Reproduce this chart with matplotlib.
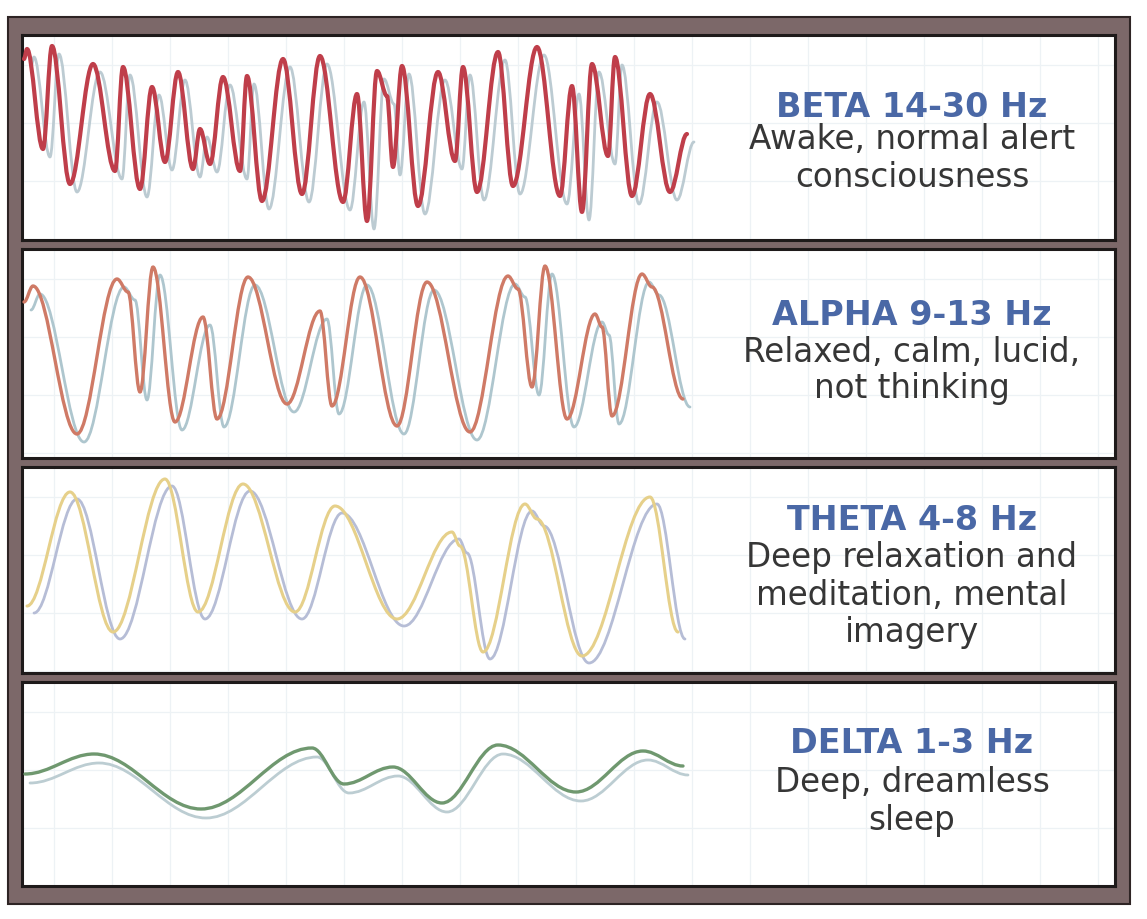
"""
脑电波四种频段示意图 (Beta / Alpha / Theta / Delta)
"""

import matplotlib
matplotlib.use("Agg")
import matplotlib.pyplot as plt
from matplotlib.path import Path
from matplotlib.patches import PathPatch, Rectangle
from matplotlib.transforms import offset_copy

# 波形极值点 (读自原图，像素坐标)
beta_x = [24, 27, 43, 52, 70, 93, 115, 123, 140, 152, 165, 178, 193, 200, 210, 223, 240, 247,
          262, 283, 302, 320, 343, 357, 367, 377, 387, 393, 402, 418, 438, 455, 463, 477, 498,
          513, 537, 560, 572, 582, 592, 608, 615, 632, 650, 670, 687]
beta_y = [60, 50, 150, 47, 185, 65, 172, 68, 190, 88, 163, 73, 170, 130, 165, 78, 172, 77,
          202, 60, 195, 57, 203, 95, 222, 72, 97, 168, 67, 207, 73, 162, 68, 193, 53,
          187, 48, 197, 87, 213, 65, 157, 58, 197, 95, 193, 135]

alpha_x = [24, 33, 77, 117, 128, 140, 153, 175, 203, 217, 248, 287, 320, 332, 360, 397, 427,
           470, 508, 518, 532, 545, 567, 595, 602, 612, 642, 652, 683]
alpha_y = [303, 287, 435, 280, 293, 393, 268, 423, 318, 420, 278, 405, 312, 407, 278, 427, 283,
           433, 277, 290, 388, 267, 420, 315, 328, 417, 275, 288, 400]

theta_x = [27, 70, 113, 165, 198, 243, 295, 335, 397, 452, 460, 483, 525, 537, 582, 650, 678]
theta_y = [607, 493, 633, 480, 613, 485, 613, 507, 620, 533, 547, 653, 505, 520, 657, 498, 633]

delta_x = [25, 94, 201, 312, 344, 393, 442, 498, 576, 643, 683]
delta_y = [775, 755, 810, 749, 785, 768, 804, 746, 793, 752, 767]

titles = ["BETA 14-30 Hz", "ALPHA 9-13 Hz", "THETA 4-8 Hz", "DELTA 1-3 Hz"]
descs = [
    ["Awake, normal alert", "consciousness"],
    ["Relaxed, calm, lucid,", "not thinking"],
    ["Deep relaxation and", "meditation, mental", "imagery"],
    ["Deep, dreamless", "sleep"],
]

W, H = 1147, 920
FONT = "DejaVu Sans"


def wave_path(xs, ys, k=0.36):
    """
    用三次贝塞尔曲线连接极值点，极值处切线水平。
    """
    verts = [(xs[0], ys[0])]
    codes = [Path.MOVETO]
    for i in range(1, len(xs)):
        dx = xs[i] - xs[i - 1]
        verts += [(xs[i - 1] + k * dx, ys[i - 1]), (xs[i] - k * dx, ys[i]), (xs[i], ys[i])]
        codes += [Path.CURVE4] * 3
    return Path(verts, codes)


fig = plt.figure(figsize=(W / 100, H / 100), dpi=100)

# 外框
frame = Rectangle((8 / W, 1 - 905 / H), (1130 - 8) / W, (905 - 18) / H,
                  transform=fig.transFigure, facecolor="#7c6869",
                  edgecolor="#2e2424", linewidth=1.5, zorder=-1)
fig.add_artist(frame)

# 面板: (上, 下) 像素位置
panels = [(36, 241), (250, 459), (468, 674), (683, 887)]
waves = [(beta_x, beta_y), (alpha_x, alpha_y), (theta_x, theta_y), (delta_x, delta_y)]
styles = [
    # 主线颜色, 线宽, 阴影颜色, 阴影线宽, 阴影偏移
    ("#bf3e4a", 3.0, "#bccbd2", 2.0, (7, 8)),
    ("#cf7a66", 2.4, "#aec6ce", 2.0, (7, 8)),
    ("#e6d08a", 2.2, "#b6bdd6", 2.0, (7, 7)),
    ("#6f986f", 2.4, "#bccdd2", 2.0, (5, 9)),
]
title_base = [117, 325, 530, 753]
line_gap = [[32, 38], [37, 36], [37, 38, 37], [39, 38]]

for i, (top, bottom) in enumerate(panels):
    ax = fig.add_axes([22 / W, 1 - bottom / H, (1115 - 22) / W, (bottom - top) / H])
    ax.set_xlim(22, 1115)
    ax.set_ylim(bottom, top)
    ax.set_facecolor("white")
    for s in ax.spines.values():
        s.set_color("#1e1a1a")
        s.set_linewidth(2.2)

    # 浅色背景网格
    ax.set_xticks(range(54, 1115, 58))
    ax.set_yticks(range(top + 30, bottom, 58))
    ax.tick_params(length=0, labelbottom=False, labelleft=False)
    ax.grid(True, color="#edf2f5", linewidth=0.9)

    xs, ys = waves[i]
    color, lw, shcolor, shlw, (ox, oy) = styles[i]
    shadow_tr = offset_copy(ax.transData, fig=fig, x=ox, y=-oy, units="dots")
    ax.add_patch(PathPatch(wave_path(xs, ys), facecolor="none", edgecolor=shcolor,
                           linewidth=shlw, transform=shadow_tr, zorder=2,
                           capstyle="round", joinstyle="round"))
    ax.add_patch(PathPatch(wave_path(xs, ys), facecolor="none", edgecolor=color,
                           linewidth=lw, zorder=3, capstyle="round", joinstyle="round"))

    # 文字说明
    y = title_base[i]
    ax.text(912, y, titles[i], ha="center", va="baseline", fontsize=24,
            fontweight="bold", color="#4a68a6", family=FONT)
    for line, gap in zip(descs[i], line_gap[i]):
        y += gap
        ax.text(912, y, line, ha="center", va="baseline", fontsize=23.5,
                color="#363636", family=FONT)

fig.savefig("out.png", dpi=100)
